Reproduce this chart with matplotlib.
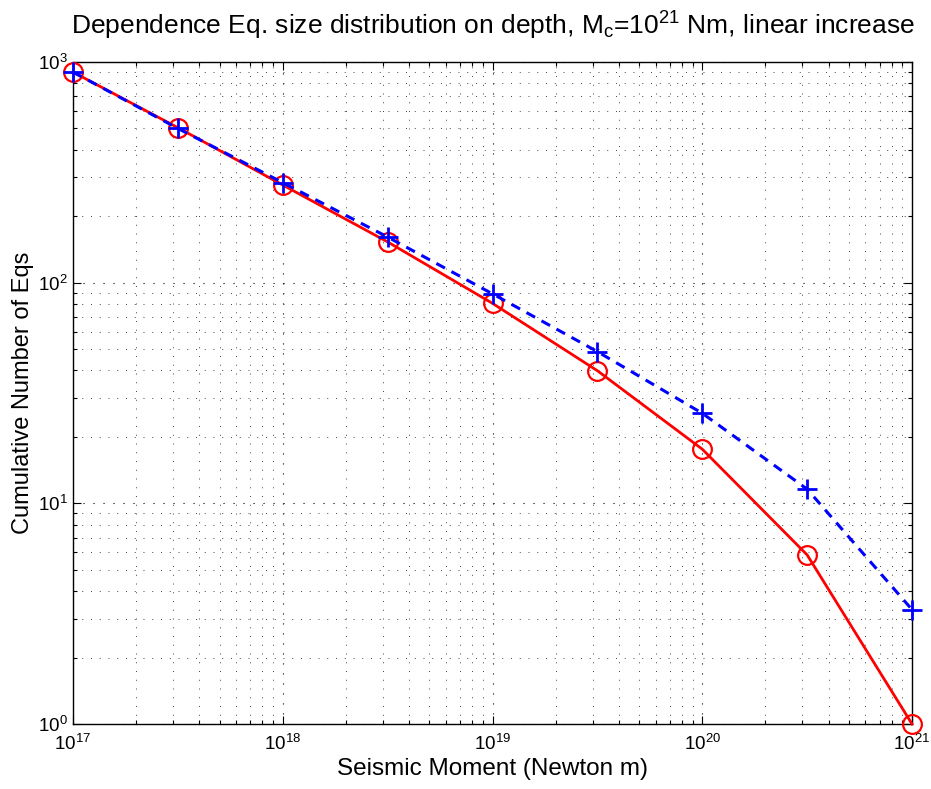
import matplotlib
matplotlib.use("Agg")
import matplotlib.pyplot as plt
from matplotlib.ticker import LogLocator, NullFormatter

plt.rcParams['font.family'] = ['Liberation Sans', 'DejaVu Sans']
plt.rcParams['mathtext.fontset'] = 'custom'
plt.rcParams['mathtext.rm'] = 'Liberation Sans'
plt.rcParams['mathtext.it'] = 'Liberation Sans:italic'
plt.rcParams['mathtext.bf'] = 'Liberation Sans:bold'

# Data
moment = [1e17, 10**17.5, 1e18, 10**18.5, 1e19, 10**19.5, 1e20, 10**20.5, 1e21]
count_red = [900, 504, 277, 153, 80.6, 39.9, 17.6, 5.84, 1.0]
count_blue = [900, 500, 284, 161, 89, 48.7, 25.6, 11.6, 3.3]

title = r"Dependence Eq. size distribution on depth, M$_\mathrm{c}$=10$^{21}$ Nm, linear increase"
xlabel = "Seismic Moment (Newton m)"
ylabel = "Cumulative Number of Eqs"

fig = plt.figure(figsize=(9.31, 7.89), dpi=100)
ax = fig.add_axes([73/931, 1-724/789, (912-73)/931, (724-62)/789])

ax.set_xscale('log')
ax.set_yscale('log')

ax.plot(moment, count_red, color='#ff0000', lw=2.0, marker='o', markersize=13.5,
        markerfacecolor='none', markeredgecolor='#ff0000', markeredgewidth=1.6,
        zorder=3, clip_on=False)
ax.plot(moment, count_blue, color='#0000ff', lw=2.2, linestyle=(0, (3.2, 2.4)),
        marker='+', markersize=14, markeredgewidth=2.0, zorder=4, clip_on=False)

ax.set_xlim(1e17, 1e21)
ax.set_ylim(1, 1000)

ax.xaxis.set_major_locator(LogLocator(base=10, numticks=10))
ax.yaxis.set_major_locator(LogLocator(base=10, numticks=10))
ax.xaxis.set_minor_locator(LogLocator(base=10, subs=range(2, 10), numticks=20))
ax.yaxis.set_minor_locator(LogLocator(base=10, subs=range(2, 10), numticks=20))
ax.xaxis.set_minor_formatter(NullFormatter())
ax.yaxis.set_minor_formatter(NullFormatter())

ax.grid(True, which='major', color='black', linestyle=(0, (1, 8)), linewidth=0.8)
ax.grid(True, which='minor', color='#444444', linestyle=(0, (1, 8)), linewidth=0.7)

ax.tick_params(which='both', direction='in', top=True, right=True, labelsize=13.5, width=0.8)
ax.tick_params(which='major', length=6)
ax.tick_params(axis='x', which='major', pad=7)
ax.tick_params(axis='y', which='major', pad=4)
ax.tick_params(which='minor', length=3)
for lab in ax.get_yticklabels():
    lab.set_verticalalignment('center_baseline')
for s in ax.spines.values():
    s.set_linewidth(1.0)

ax.set_title(title, fontsize=19, pad=20)
ax.set_xlabel(xlabel, fontsize=17.5)
ax.set_ylabel(ylabel, fontsize=17)
ax.xaxis.set_label_coords(0.5, -(758 - 724) / 662)
ax.yaxis.set_label_coords((34 - 73) / 839, 0.5)

fig.savefig("out.png", dpi=100)
